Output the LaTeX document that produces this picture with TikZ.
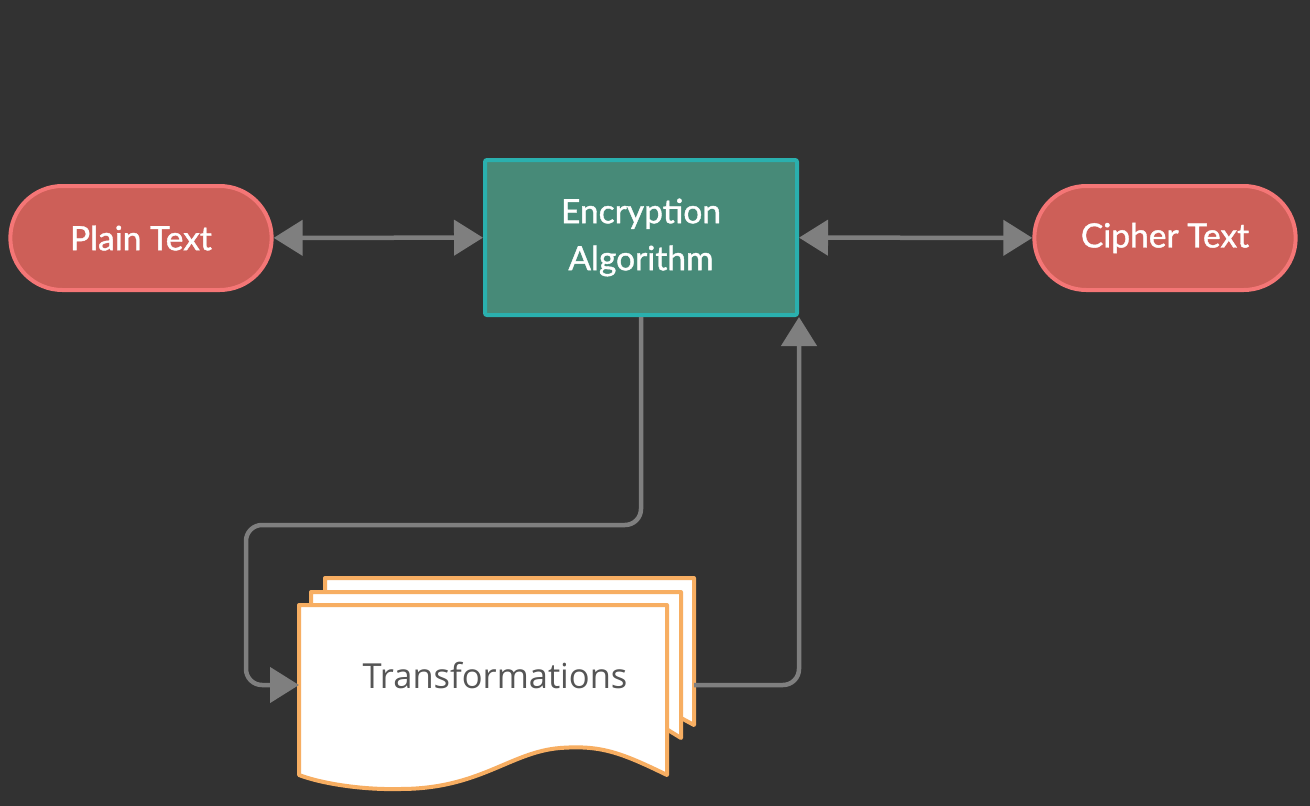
\documentclass[tikz,border=0pt]{standalone}
\usepackage{fontspec}
\setmainfont{Lato}
\newfontfamily\labelfont{Lato}[FakeBold=1.2]
\newfontfamily\docfont{Open Sans}
\usetikzlibrary{arrows.meta,shapes.misc}
\definecolor{bgdark}{HTML}{323232}
\definecolor{pillfill}{HTML}{CD5F58}
\definecolor{pillline}{HTML}{F47676}
\definecolor{algofill}{HTML}{478A78}
\definecolor{algoline}{HTML}{2AB0AE}
\definecolor{connline}{HTML}{7F7F7F}
\definecolor{docline}{HTML}{F7AE62}
\definecolor{doctext}{HTML}{555555}
\tikzset{
  pill/.style={rounded rectangle, draw=pillline, fill=pillfill, line width=4pt,
    minimum width=268pt, minimum height=104pt, text=white, font=\labelfont\fontsize{33.5}{38}\selectfont},
  algo/.style={rectangle, draw=algoline, fill=algofill, line width=4pt, rounded corners=2pt,
    minimum width=312pt, minimum height=155pt, text=white, align=center,
    font=\labelfont\fontsize{33.5}{47}\selectfont},
  page/.style={draw=docline, fill=white, line width=4pt, line join=round},
  conn/.style={draw=connline, line width=4.5pt, rounded corners=16pt},
  tip/.tip={Triangle[length=29pt,width=35pt]}
}
\begin{document}
\begin{tikzpicture}[x=1pt,y=-1pt]
\useasboundingbox (0,0) rectangle (1310,806);
\fill[bgdark] (0,0) rectangle (1310,806);

\node[pill] (plain) at (141,238) {Plain Text};
\node[algo] (enc) at (641,237.5) {Encryption\\Algorithm};
\node[pill] (cipher) at (1165,238) {Cipher Text};

\draw[page] (325,578) -- (694,578) -- (694,725) -- (670,712) -- (325,712) -- cycle;
\draw[page] (311,592) -- (681,592) -- (681,738) -- (655,722) -- (311,722) -- cycle;
\draw[page] (299,605) -- (667,605) -- (667,775) .. controls (620,752) and (600,745) .. (560,748)
  .. controls (510,752) and (480,789) .. (400,789) .. controls (360,790) and (320,783) .. (299,775) -- cycle;
\node[text=doctext, font=\docfont\fontsize{34.5}{40}\selectfont] (trans) at (495,675) {Transformations};
\coordinate (tin) at (299,685);
\coordinate (tout) at (694,685);
\coordinate (bend) at (246,525);

\draw[conn, tip-tip] (plain) -- (enc);
\draw[conn, tip-tip] (enc) -- (cipher);
\draw[conn, -tip] (enc.south) |- (bend) |- (tin);
\draw[conn, -tip] (tout) -| (enc.south east);
\end{tikzpicture}
\end{document}
